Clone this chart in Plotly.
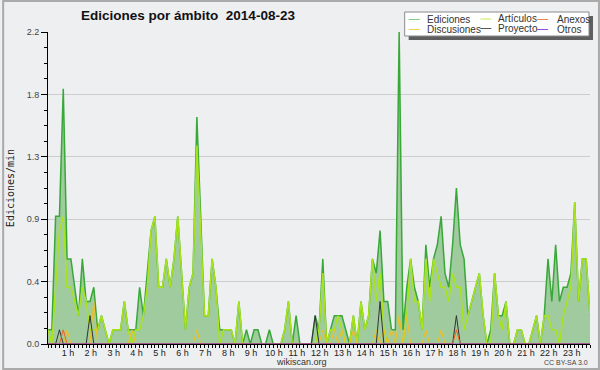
import plotly.graph_objects as go

W, H = 600, 370
L, R, T, B = 46, 10, 32, 26

# ---- data (10-minute slots of 2014-08-23, edits per minute) ----
slots = list(range(143))
hour_labels = [f"{h} h" for h in range(1, 24)]

ediciones = [0.1, 0.1, 0.9, 0.9, 1.8, 0.6, 0.6, 0.4, 0.2, 0.6,
             0.3, 0.3, 0.4, 0.1, 0.2, 0.1, 0.0, 0.1, 0.1, 0.1,
             0.3, 0.1, 0.1, 0.1, 0.4, 0.2, 0.5, 0.8, 0.9, 0.4,
             0.4, 0.6, 0.4, 0.6, 0.9, 0.5, 0.1, 0.4, 0.5, 1.6,
             0.9, 0.2, 0.2, 0.6, 0.4, 0.1, 0.1, 0.1, 0.1, 0.0,
             0.3, 0.0, 0.1, 0.0, 0.1, 0.1, 0.0, 0.0, 0.1, 0.0,
             0.0, 0.0, 0.1, 0.3, 0.0, 0.2, 0.0, 0.0, 0.0, 0.0,
             0.2, 0.1, 0.6, 0.0, 0.1, 0.2, 0.2, 0.2, 0.1, 0.0,
             0.2, 0.0, 0.3, 0.1, 0.2, 0.6, 0.5, 0.8, 0.3, 0.3,
             0.1, 0.1, 2.2, 0.1, 0.4, 0.6, 0.4, 0.3, 0.1, 0.7,
             0.4, 0.6, 0.7, 0.9, 0.5, 0.4, 0.7, 1.1, 0.7, 0.6,
             0.2, 0.3, 0.4, 0.5, 0.2, 0.0, 0.1, 0.5, 0.2, 0.2,
             0.3, 0.0, 0.0, 0.1, 0.1, 0.0, 0.0, 0.1, 0.2, 0.0,
             0.2, 0.6, 0.3, 0.7, 0.3, 0.4, 0.4, 0.5, 1.0, 0.3,
             0.6, 0.6, 0.2]

articulos = [0.1, 0.0, 0.4, 0.8, 0.9, 0.4, 0.4, 0.3, 0.2, 0.4,
             0.3, 0.1, 0.1, 0.1, 0.2, 0.1, 0.0, 0.1, 0.1, 0.1,
             0.3, 0.1, 0.0, 0.1, 0.1, 0.2, 0.4, 0.8, 0.9, 0.4,
             0.4, 0.6, 0.4, 0.6, 0.9, 0.5, 0.1, 0.4, 0.5, 1.4,
             0.8, 0.2, 0.2, 0.6, 0.4, 0.0, 0.1, 0.1, 0.1, 0.0,
             0.3, 0.0, 0.0, 0.0, 0.0, 0.0, 0.0, 0.0, 0.0, 0.0,
             0.0, 0.0, 0.1, 0.3, 0.0, 0.0, 0.0, 0.0, 0.0, 0.0,
             0.0, 0.1, 0.5, 0.0, 0.1, 0.1, 0.2, 0.1, 0.0, 0.0,
             0.2, 0.0, 0.3, 0.1, 0.2, 0.6, 0.3, 0.5, 0.1, 0.0,
             0.0, 0.0, 0.0, 0.0, 0.2, 0.6, 0.3, 0.3, 0.1, 0.6,
             0.3, 0.6, 0.5, 0.4, 0.4, 0.3, 0.5, 0.4, 0.4, 0.1,
             0.2, 0.3, 0.4, 0.5, 0.2, 0.0, 0.0, 0.5, 0.2, 0.1,
             0.3, 0.0, 0.0, 0.1, 0.1, 0.0, 0.0, 0.1, 0.2, 0.0,
             0.2, 0.2, 0.1, 0.1, 0.0, 0.2, 0.3, 0.4, 1.0, 0.3,
             0.6, 0.6, 0.2]

discusiones = [0.0] * 143
for i, v in {5: 0.1, 12: 0.3, 22: 0.1, 39: 0.1, 72: 0.1, 75: 0.1, 77: 0.1,
             80: 0.1, 86: 0.1, 88: 0.1, 90: 0.1, 92: 0.2, 94: 0.2, 99: 0.1,
             103: 0.1, 107: 0.1}.items():
    discusiones[i] = v

proyecto = [0.0] * 143
for i, v in {3: 0.1, 11: 0.2, 70: 0.2, 87: 0.3, 107: 0.2}.items():
    proyecto[i] = v

anexos = [0.0] * 143
for i, v in {4: 0.1, 107: 0.1}.items():
    anexos[i] = v

otros = [0.0] * 143

y_ticks = [0.0, 0.44, 0.88, 1.32, 1.76, 2.2]
y_labels = ["0.0", "0.4", "0.9", "1.3", "1.8", "2.2"]

legend_items = [
    ("Ediciones", "#7ccc7c", 408, 424, 19.5),
    ("Artículos", "#c6ec5a", 480, 496, 19.0),
    ("Anexos", "#ef8454", 537, 555, 19.5),
    ("Discusiones", "#f6cf52", 408, 424, 29.5),
    ("Proyecto", "#555555", 480, 496, 28.5),
    ("Otros", "#9650e0", 537, 555, 29.5),
]

# ---- helpers: pixel -> paper coords ----
def px(x):
    return (x - L) / (W - L - R)


def py(y):
    return (H - B - y) / (H - T - B)


fig = go.Figure()
fig.add_trace(go.Scatter(x=slots, y=ediciones, mode="lines", name="Ediciones",
                         line=dict(color="#38a838", width=1.5),
                         fill="tozeroy", fillcolor="#9fcb9f"))
fig.add_trace(go.Scatter(x=slots, y=articulos, mode="lines", name="Artículos",
                         line=dict(color="#a9e41b", width=1.5)))
fig.add_trace(go.Scatter(x=slots, y=discusiones, mode="lines", name="Discusiones",
                         line=dict(color="#f2c021", width=1)))
fig.add_trace(go.Scatter(x=slots, y=proyecto, mode="lines", name="Proyecto",
                         line=dict(color="#333333", width=1)))
fig.add_trace(go.Scatter(x=slots, y=anexos, mode="lines", name="Anexos",
                         line=dict(color="#f0602a", width=1)))
fig.add_trace(go.Scatter(x=slots, y=otros, mode="lines", name="Otros",
                         line=dict(color="#9040e0", width=1)))

ticktext = ["" for _ in slots]
for h, lab in enumerate(hour_labels, start=1):
    ticktext[h * 6] = lab

shapes = [
    # legend shadow + box
    dict(type="rect", xref="paper", yref="paper", x0=px(408), x1=px(593),
         y0=py(40), y1=py(16), fillcolor="#5e5e5e", line=dict(width=0)),
    dict(type="rect", xref="paper", yref="paper", x0=px(404), x1=px(589),
         y0=py(36), y1=py(12), fillcolor="#ffffff",
         line=dict(color="#8a8a8a", width=1)),
    # outer frame
    dict(type="rect", xref="paper", yref="paper", x0=px(1), x1=px(599),
         y0=py(369), y1=py(1), line=dict(color="#aaaaaa", width=2)),
]
annotations = []
for name, col, lx, tx, ly in legend_items:
    shapes.append(dict(type="line", xref="paper", yref="paper",
                       x0=px(lx), x1=px(lx + 11), y0=py(ly), y1=py(ly),
                       line=dict(color=col, width=1)))
    annotations.append(dict(text=name, xref="paper", yref="paper", x=px(tx), y=py(ly),
                            xanchor="left", yanchor="middle", showarrow=False,
                            font=dict(family="Liberation Sans", size=10, color="#333333")))

annotations.append(dict(text="wikiscan.org", xref="paper", yref="paper", x=px(300), y=py(362),
                        xanchor="center", yanchor="middle", showarrow=False,
                        font=dict(family="Liberation Sans", size=9, color="#333333")))
annotations.append(dict(text="CC BY-SA 3.0", xref="paper", yref="paper", x=px(590), y=py(362),
                        xanchor="right", yanchor="middle", showarrow=False,
                        font=dict(family="Liberation Sans", size=7, color="#444444")))

fig.update_layout(
    width=W, height=H,
    margin=dict(l=L, r=R, t=T, b=B),
    paper_bgcolor="#eeeff1", plot_bgcolor="#eeeff1",
    showlegend=False,
    title=dict(text="<b>Ediciones por ámbito\u00a0 2014-08-23</b>",
               x=188 / W, xanchor="center", xref="container",
               y=1 - 15 / H, yanchor="middle", yref="container",
               font=dict(family="Liberation Sans", size=13.5, color="#111111")),
    xaxis=dict(range=[0, 142], tickmode="array", tickvals=slots, ticktext=ticktext,
               ticks="outside", ticklen=3, tickcolor="#000000", tickwidth=1,
               showline=True, linecolor="#000000", linewidth=1,
               showgrid=False, zeroline=False, tickangle=0,
               ticklabelstandoff=-3, ticklabelshift=-3,
               tickfont=dict(family="Liberation Sans", size=9, color="#222222")),
    yaxis=dict(range=[0, 2.2], tickmode="array", tickvals=y_ticks, ticktext=y_labels,
               ticks="outside", ticklen=6, tickcolor="#000000", tickwidth=1,
               showline=True, linecolor="#000000", linewidth=1,
               showgrid=True, gridcolor="#cdcdcd", gridwidth=1, zeroline=False,
               minor=dict(tickmode="array",
                          tickvals=[round(0.11 * k, 2) for k in range(21) if k % 4],
                          ticks="outside", ticklen=3, tickcolor="#000000", showgrid=False),
               tickfont=dict(family="Liberation Sans", size=9, color="#444444"),
               title=dict(text="Ediciones/min", standoff=10,
                          font=dict(family="DejaVu Sans Mono", size=10, color="#222222"))),
    shapes=shapes,
    annotations=annotations,
)

fig.write_html("out.html", config={"displayModeBar": False},
               post_script="document.body.style.margin='0';document.body.style.overflow='hidden';")
